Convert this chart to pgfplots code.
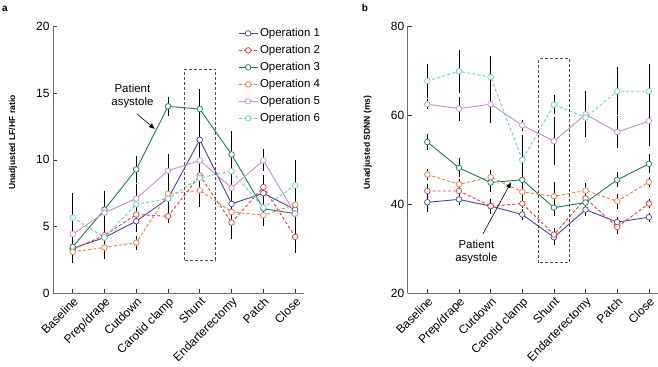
\documentclass[border=0pt]{standalone}
\usepackage{fontspec}
\setmainfont{Liberation Sans}
\usepackage{pgfplots}
\usepackage{pgfplotstable}
\pgfplotsset{compat=1.18}
\usetikzlibrary{arrows.meta}

\definecolor{c1}{RGB}{70,70,160}
\definecolor{c2}{RGB}{228,60,60}
\definecolor{c3}{RGB}{20,130,80}
\definecolor{c4}{RGB}{245,120,60}
\definecolor{c5}{RGB}{200,140,210}
\definecolor{c6}{RGB}{100,210,200}

\pgfplotstableread{
x a1 e1 a2 e2 a3 e3 a4 e4 a5 e5 a6 e6
0 3.36 0.5 3.3 0.8 3.48 0.5 3.11 0.5 4.43 0.3 5.67 1.6
1 4.18 0.5 4.35 0.6 6.27 1.2 3.43 0.6 6.04 1.4 4.18 0.8
2 5.4 0.6 5.9 0.5 9.28 0.8 3.8 0.3 7.09 0.9 6.67 0.8
3 7.1 0.8 5.77 0.3 14.0 0.5 7.46 1.3 9.18 1.0 7.09 0.9
4 11.5 1.1 8.83 1.2 13.8 1.25 7.71 1.0 9.95 1.3 8.65 1.0
5 6.7 0.6 5.3 1.0 10.4 1.5 6.09 0.9 7.9 1.0 9.15 1.0
6 7.5 0.4 7.96 0.7 6.34 0.7 5.85 0.6 9.95 0.6 6.42 0.6
7 6.27 0.8 4.23 1.0 5.97 0.9 6.64 1.0 5.97 1.0 8.08 1.65
}\tabA

\pgfplotstableread{
x a1 e1 a2 e2 a3 e3 a4 e4 a5 e5 a6 e6
0 40.45 1.5 43.0 1.0 54.0 1.1 46.7 0.5 62.5 0.5 67.7 3.2
1 41.1 0.5 43.0 0.8 48.2 1.5 44.5 0.5 61.5 2.0 69.9 4.2
2 39.6 1.0 39.6 1.0 44.9 1.5 46.1 1.0 62.5 3.5 68.6 4.1
3 37.7 0.5 40.15 0.3 45.5 2.0 42.8 1.5 57.75 0.5 50.0 5.0
4 32.6 1.0 33.2 0.8 39.25 1.3 41.8 2.5 54.2 4.7 62.4 1.4
5 38.8 0.7 41.3 1.5 40.4 0.5 43.1 1.0 60.2 4.5 59.5 1.5
6 36.0 0.5 34.9 1.0 45.5 1.0 40.7 1.0 56.25 3.0 65.4 4.7
7 37.1 0.3 40.15 0.3 49.1 1.5 45.0 0.5 58.7 5.0 65.4 5.5
}\tabB

\pgfplotsset{
 panel/.style={
  scale only axis, height=267bp,
  xmin=-0.62, xmax=7.28,
  axis x line*=bottom, axis y line*=left,
  axis line style={gray!85!black, line width=0.8bp, -},
  tick align=inside, major tick length=4bp,
  tick style={black!80, line width=0.6bp},
  xtick={0,...,7},
  xticklabels={Baseline,Prep/drape,Cutdown,Carotid clamp,Shunt,Endarterectomy,Patch,Close},
  xticklabel style={rotate=45, anchor=north east, inner sep=2bp, font=\fontsize{12}{14}\selectfont},
  yticklabel style={font=\fontsize{12}{14}\selectfont},
  /pgf/number format/assume math mode=true,
  ylabel style={font=\fontsize{8.6}{10}\selectfont\bfseries, at={(axis description cs:-0.16,0.565)}, anchor=center},
  every axis plot/.append style={line width=0.9bp, mark=*, mark size=2.8bp, mark options={solid, fill=white, line width=0.7bp}},
  error bars/y dir=both, error bars/y explicit,
  error bars/error bar style={black, line width=0.6bp, solid},
  error bars/error mark=-,
  error bars/error mark options={mark size=3bp, black, line width=0.6bp, solid},
  clip=false,
 },
 op1/.style={color=c1, solid},
 op2/.style={color=c2, dash pattern=on 3bp off 2.2bp},
 op3/.style={color=c3, solid},
 op4/.style={color=c4, dash pattern=on 3bp off 2.2bp},
 op5/.style={color=c5, solid},
 op6/.style={color=c6, dash pattern=on 3bp off 2.2bp},
}

\begin{document}
\begin{tikzpicture}
\useasboundingbox (0,0) rectangle (658bp,-367bp);
\node[font=\bfseries\fontsize{10}{12}\selectfont] at (5bp,-9bp) {a};
\node[font=\bfseries\fontsize{10}{12}\selectfont] at (365bp,-8bp) {b};

\begin{axis}[panel, at={(53bp,-293.3bp)}, anchor=south west, width=251bp,
  ymin=0, ymax=20, ytick={0,5,10,15,20},
  ylabel={Unadjusted LF/HF ratio},
  legend style={at={(rel axis cs:0.737,1)}, anchor=north west, draw=none, fill=none,
    font=\fontsize{11.5}{13}\selectfont, row sep=3.2bp, inner sep=0pt, cells={anchor=west}},
  legend image code/.code={\draw[mark repeat=2,mark phase=2] plot coordinates {(0bp,0bp) (9.5bp,0bp) (19bp,0bp)};},
]
\addplot[op1] table[x=x, y=a1, y error=e1] {\tabA};
\addplot[op2] table[x=x, y=a2, y error=e2] {\tabA};
\addplot[op3] table[x=x, y=a3, y error=e3] {\tabA};
\addplot[op4] table[x=x, y=a4, y error=e4] {\tabA};
\addplot[op5] table[x=x, y=a5, y error=e5] {\tabA};
\addplot[op6] table[x=x, y=a6, y error=e6] {\tabA};
\legend{Operation 1,Operation 2,Operation 3,Operation 4,Operation 5,Operation 6}
\draw[gray!60!black, line width=0.7bp, dash pattern=on 3bp off 2bp] (axis cs:3.52,2.5) rectangle (axis cs:4.49,16.8);
\node[align=center, font=\fontsize{11.5}{13.3}\selectfont] at (axis cs:1.88,14.8) {Patient\\asystole};
\draw[-{Latex[length=6bp,width=5bp]}, line width=0.6bp] (axis cs:2.02,13.45) -- (axis cs:2.59,12.3);
\end{axis}

\begin{axis}[panel, at={(407.7bp,-293.3bp)}, anchor=south west, width=250bp,
  ymin=20, ymax=80, ytick={20,40,60,80},
  ylabel={Unadjusted SDNN (ms)},
]
\addplot[op1] table[x=x, y=a1, y error=e1] {\tabB};
\addplot[op2] table[x=x, y=a2, y error=e2] {\tabB};
\addplot[op3] table[x=x, y=a3, y error=e3] {\tabB};
\addplot[op4] table[x=x, y=a4, y error=e4] {\tabB};
\addplot[op5] table[x=x, y=a5, y error=e5] {\tabB};
\addplot[op6] table[x=x, y=a6, y error=e6] {\tabB};
\draw[gray!60!black, line width=0.7bp, dash pattern=on 3bp off 2bp] (axis cs:3.52,26.9) rectangle (axis cs:4.49,72.7);
\node[align=center, font=\fontsize{11.5}{13.3}\selectfont] at (axis cs:1.55,29.3) {Patient\\asystole};
\draw[-{Latex[length=6bp,width=5bp]}, line width=0.6bp] (axis cs:1.76,33.4) -- (axis cs:2.65,45.0);
\end{axis}
\end{tikzpicture}
\end{document}
